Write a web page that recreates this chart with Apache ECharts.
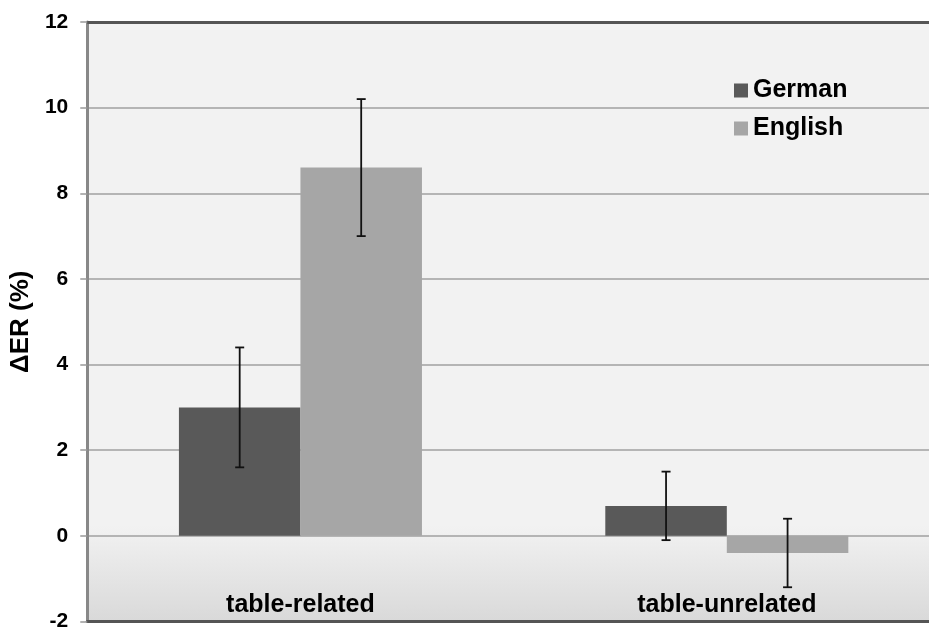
<!DOCTYPE html>
<html><head><meta charset="utf-8">
<script src="https://cdn.jsdelivr.net/npm/echarts@6/dist/echarts.min.js"></script>
<style>html,body{margin:0;padding:0;background:#fff;overflow:hidden}#c{width:945px;height:632px}</style>
</head><body><div id="c"></div>
<script>
const categories = ['table-related', 'table-unrelated'];
const seriesNames = ['German', 'English'];
const germanValues = [3.0, 0.7];
const englishValues = [8.6, -0.4];
const germanLow = [1.6, -0.1];
const germanHigh = [4.4, 1.5];
const englishLow = [7.0, -1.2];
const englishHigh = [10.2, 0.4];
const yTicks = [-2, 0, 2, 4, 6, 8, 10, 12];

const FONT = "'Liberation Sans', Arial, Helvetica, sans-serif";
const GAP = 0.43;

function errData(low, high) { return categories.map((c, i) => [i, low[i], high[i]]); }
function errSeries(name, low, high, side) {
  return {
    type: 'custom', name: name + ' err', silent: true, z: 10,
    data: errData(low, high),
    renderItem: function (params, api) {
      const idx = api.value(0);
      const band = api.size([1, 0])[0];
      const off = side * band * (1 - GAP) / 4;
      const pLow = api.coord([idx, api.value(1)]);
      const pHigh = api.coord([idx, api.value(2)]);
      const x = pLow[0] + off;
      const cap = 4.5;
      const st = { stroke: '#111', lineWidth: 1.8 };
      return { type: 'group', children: [
        { type: 'line', shape: { x1: x, y1: pLow[1], x2: x, y2: pHigh[1] }, style: st },
        { type: 'line', shape: { x1: x - cap, y1: pLow[1], x2: x + cap, y2: pLow[1] }, style: st },
        { type: 'line', shape: { x1: x - cap, y1: pHigh[1], x2: x + cap, y2: pHigh[1] }, style: st }
      ]};
    }
  };
}

const chart = echarts.init(document.getElementById('c'));
chart.setOption({
  animation: false,
  textStyle: { fontFamily: FONT },
  grid: {
    left: 84, top: 22, width: 856, height: 603, show: true,
    borderWidth: 0,
    backgroundColor: { type: 'linear', x: 0, y: 0, x2: 0, y2: 1, colorStops: [
      { offset: 0, color: '#f2f2f2' }, { offset: 0.84, color: '#f2f2f2' }, { offset: 1, color: '#d9d9d9' }] }
  },
  legend: {
    data: seriesNames, orient: 'vertical', left: 729, top: 73, itemGap: 13,
    itemWidth: 14, itemHeight: 14, icon: 'rect',
    textStyle: { fontSize: 25, fontWeight: 'bold', color: '#000', fontFamily: FONT }
  },
  xAxis: {
    type: 'category', data: categories,
    axisLine: { show: true, onZero: false, lineStyle: { color: '#555', width: 3 } },
    axisTick: { show: false },
    axisLabel: { inside: true, margin: 4, fontSize: 25, fontWeight: 'bold', color: '#000' },
    splitLine: { show: false }
  },
  yAxis: {
    type: 'value', min: -2, max: 12, interval: 2,
    name: 'ΔER (%)', nameLocation: 'middle', nameGap: 47,
    nameTextStyle: { fontSize: 26, fontWeight: 'bold', color: '#000' },
    axisLine: { show: true, lineStyle: { color: '#888', width: 3 } },
    axisTick: { show: true, length: 7, lineStyle: { color: '#999', width: 1.5 } },
    axisLabel: { fontSize: 21, fontWeight: 'bold', color: '#000', margin: 19,
      formatter: v => yTicks.includes(v) ? String(v) : '' },
    splitLine: { show: true, lineStyle: { color: '#a0a0a0', width: 1.5 } }
  },
  series: [
    { type: 'bar', name: 'German', data: germanValues, barGap: '0%', barCategoryGap: (GAP * 100) + '%',
      itemStyle: { color: '#595959' } },
    { type: 'bar', name: 'English', data: englishValues, barGap: '0%', barCategoryGap: (GAP * 100) + '%',
      itemStyle: { color: '#a6a6a6' } },
    errSeries('German', germanLow, germanHigh, -1),
    errSeries('English', englishLow, englishHigh, 1),
    { type: 'line', data: [], silent: true,
      markLine: { silent: true, symbol: 'none', label: { show: false },
        lineStyle: { color: '#555', width: 3, type: 'solid' }, data: [{ yAxis: 12 }] } }
  ]
});
</script></body></html>
